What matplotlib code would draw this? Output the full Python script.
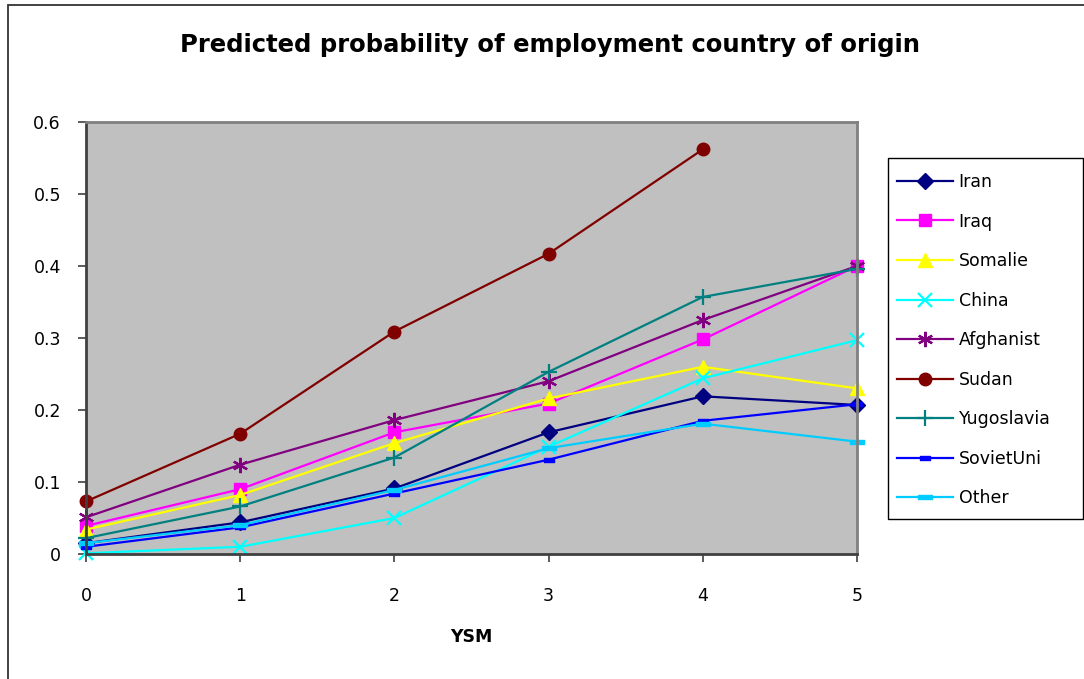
import matplotlib
matplotlib.use("Agg")
import matplotlib.pyplot as plt
from matplotlib.patches import Rectangle
from matplotlib.path import Path
import numpy as np

plt.rcParams['font.family'] = ['DejaVu Sans']

ysm = [0, 1, 2, 3, 4, 5]
iran = [0.015, 0.044, 0.091, 0.169, 0.219, 0.207]
iraq = [0.039, 0.090, 0.169, 0.209, 0.298, 0.400]
somalie = [0.034, 0.082, 0.154, 0.216, 0.260, 0.230]
china = [0.001, 0.010, 0.050, 0.149, 0.244, 0.297]
afghanist = [0.051, 0.124, 0.186, 0.240, 0.325, 0.400]
sudan = [0.073, 0.167, 0.309, 0.417, 0.562, np.nan]
yugoslavia = [0.022, 0.066, 0.134, 0.253, 0.357, 0.396]
sovietuni = [0.010, 0.037, 0.084, 0.131, 0.185, 0.208]
other = [0.015, 0.040, 0.089, 0.147, 0.181, 0.156]

names = ["Iran", "Iraq", "Somalie", "China", "Afghanist", "Sudan",
         "Yugoslavia", "SovietUni", "Other"]
series = [iran, iraq, somalie, china, afghanist, sudan, yugoslavia, sovietuni, other]
colors = ["#000080", "#FF00FF", "#FFFF00", "#00FFFF", "#800080", "#800000",
          "#008080", "#0000FF", "#00CCFF"]

# short flat bar used by the last two series
dash = Path([(-1, -0.35), (1, -0.35), (1, 0.35), (-1, 0.35), (-1, -0.35)],
            [Path.MOVETO, Path.LINETO, Path.LINETO, Path.LINETO, Path.CLOSEPOLY])
styles = [
    dict(marker="D", ms=8),
    dict(marker="s", ms=8),
    dict(marker="^", ms=10),
    dict(marker="x", ms=10, mew=1.6),
    dict(marker=(6, 2, 0), ms=11, mew=1.6),
    dict(marker="o", ms=9),
    dict(marker="+", ms=11, mew=1.6),
    dict(marker=dash, ms=7),
    dict(marker=dash, ms=10),
]

W, H = 1084, 679
fig = plt.figure(figsize=(W / 100, H / 100), dpi=100)
fig.patch.set_facecolor("white")

# outer chart frame (runs off the right and bottom edges)
fig.add_artist(Rectangle((7.5 / W, -0.1), 1.2, (H - 4.7) / H + 0.1,
                         transform=fig.transFigure, fill=False,
                         edgecolor="#333333", lw=1.3))

ax = fig.add_axes([86 / W, (H - 554) / H, 771 / W, 432 / H])
ax.set_facecolor("#C0C0C0")

handles = []
for vals, name, col, st in zip(series, names, colors, styles):
    h, = ax.plot(ysm, vals, color=col, lw=1.6, mfc=col, mec=col,
                 label=name, clip_on=False, **st)
    handles.append(h)

ax.set_xlim(0, 5)
ax.set_ylim(0, 0.6)
ax.set_xticks(ysm)
ax.set_yticks([0, 0.1, 0.2, 0.3, 0.4, 0.5, 0.6])
ax.set_yticklabels(["0", "0.1", "0.2", "0.3", "0.4", "0.5", "0.6"])
ax.tick_params(axis="both", direction="out", length=6, width=1.2,
               color="#404040", labelsize=12.5)
ax.tick_params(axis="y", pad=12)
ax.tick_params(axis="x", pad=18)

for s in ("left", "bottom"):
    ax.spines[s].set_color("#404040")
    ax.spines[s].set_linewidth(2)
for s in ("top", "right"):
    ax.spines[s].set_color("#808080")
    ax.spines[s].set_linewidth(2)

ax.set_xlabel("YSM", fontsize=12.5, fontweight="bold", labelpad=16)

fig.text(550 / W, 1 - 45 / H, "Predicted probability of employment country of origin",
         ha="center", va="center", fontsize=17.5, fontweight="bold")

# legend box
fig.add_artist(Rectangle((888 / W, 1 - 519 / H), (1083 - 888) / W, (519 - 158) / H,
                         transform=fig.transFigure, facecolor="white",
                         edgecolor="black", lw=1.0, zorder=3))
leg = fig.legend(handles=handles, loc="upper left",
                 bbox_to_anchor=(897 / W, 1 - 173 / H),
                 fontsize=12.5, frameon=False,
                 borderaxespad=0, borderpad=0, handlelength=3.2,
                 handletextpad=0.35, labelspacing=1.24)
leg.set_zorder(4)

fig.savefig("out.png", dpi=100)
